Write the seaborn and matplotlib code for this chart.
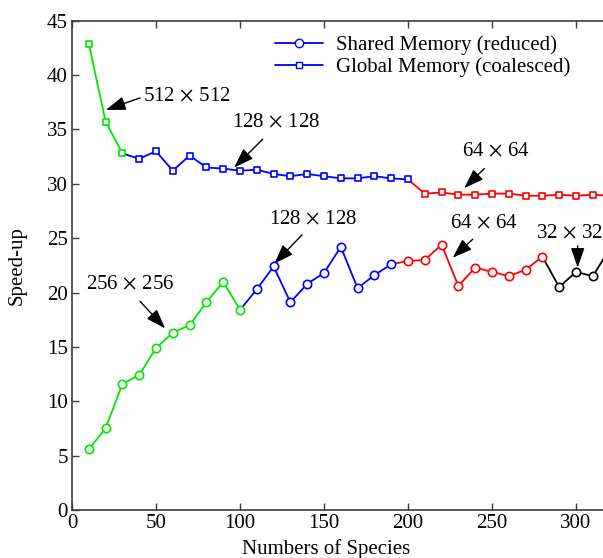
import matplotlib
matplotlib.use("Agg")
import matplotlib.pyplot as plt
from matplotlib.lines import Line2D
import numpy as np
import pandas as pd
import seaborn as sns

# Number of species on the x axis
species = [10, 20, 30, 40, 50, 60, 70, 80, 90, 100,
           110, 120, 130, 140, 150, 160, 170, 180, 190, 200,
           210, 220, 230, 240, 250, 260, 270, 280, 290, 300,
           310, 320]

# Speed-up of the shared-memory (reduced) kernel
shared_speedup = [5.6, 7.5, 11.6, 12.4, 14.9, 16.3, 17.0, 19.1, 21.0, 18.4,
                  20.3, 22.4, 19.1, 20.8, 21.8, 24.2, 20.4, 21.6, 22.6, 22.9,
                  23.0, 24.4, 20.6, 22.3, 21.9, 21.5, 22.1, 23.3, 20.5, 21.9,
                  21.5, 24.0]

# Speed-up of the global-memory (coalesced) kernel
global_speedup = [42.9, 35.7, 32.8, 32.3, 33.0, 31.2, 32.6, 31.5, 31.4, 31.2,
                  31.3, 30.9, 30.7, 30.9, 30.7, 30.5, 30.5, 30.7, 30.5, 30.4,
                  29.1, 29.2, 29.0, 29.0, 29.1, 29.1, 28.9, 28.9, 29.0, 28.9,
                  29.0, 28.9]

# Grid sizes used over each range of species, and the colour for each range
shared_segments = [(0, 10, "#00e600"), (10, 19, "#0000ff"),
                   (19, 28, "#ff0000"), (28, 32, "black")]
global_segments = [(0, 3, "#00e600"), (3, 20, "#0000ff"), (20, 32, "#ff0000")]

legend_labels = ["Shared Memory (reduced)", "Global Memory (coalesced)"]

sns.set_theme(style="ticks")
plt.rcParams["font.family"] = ["Liberation Serif", "DejaVu Serif"]
plt.rcParams["mathtext.fontset"] = "stix"
plt.rcParams["text.color"] = "black"
plt.rcParams["axes.labelcolor"] = "black"

FS = 15
AX_COLOR = "#3c3c3c"

fig = plt.figure(figsize=(6.03, 5.58), dpi=100)
ax = fig.add_axes([72 / 603, 48 / 558, 588 / 603, 489.3 / 558])


def draw_series(yvals, segments, marker, msize):
    df = pd.DataFrame({"species": species, "speedup": yvals})
    # connecting lines: each range starts from the last point of the previous one
    for start, stop, color in segments:
        lo = max(start - 1, 0)
        part = df.iloc[lo:stop]
        sns.lineplot(data=part, x="species", y="speedup", color=color,
                     linewidth=1.3, ax=ax, sort=False, zorder=2)
    # open markers on top
    for start, stop, color in segments:
        part = df.iloc[start:stop]
        sns.scatterplot(data=part, x="species", y="speedup", marker=marker,
                        s=msize ** 2, facecolor="white", edgecolor=color,
                        linewidth=1.2, ax=ax, zorder=3)


draw_series(shared_speedup, shared_segments, "o", 6.0)
draw_series(global_speedup, global_segments, "s", 5.0)

ax.set_xlim(0, 350)
ax.set_ylim(0, 45)
ax.set_xticks(np.arange(0, 301, 50))
ax.set_yticks(np.arange(0, 46, 5))
ax.tick_params(direction="in", length=5, width=1, colors=AX_COLOR,
               labelcolor="black", labelsize=FS, top=True, right=True, pad=3)
for side in ["left", "bottom", "top", "right"]:
    ax.spines[side].set_visible(True)
    ax.spines[side].set_color(AX_COLOR)
    ax.spines[side].set_linewidth(1.2)

ax.set_xlabel("Numbers of Species", fontsize=FS)
ax.set_ylabel("Speed-up", fontsize=FS)
ax.xaxis.set_label_coords(151 / 350, -0.06)
ax.yaxis.set_label_coords(-0.077, 0.5)

arrow = dict(arrowstyle="-|>,head_length=0.8,head_width=0.28", color="black",
             lw=1.0, shrinkA=0, shrinkB=0, mutation_scale=15)
annotations = [
    (r"512$\,\times\,$512", (20.2, 36.8), (42.0, 37.95), "left"),
    (r"128$\,\times\,$128", (96.6, 31.5), (121.4, 35.6), "center"),
    (r"64$\,\times\,$64", (233.5, 29.6), (252.4, 32.9), "center"),
    (r"256$\,\times\,$256", (55.4, 16.7), (34.6, 20.7), "center"),
    (r"128$\,\times\,$128", (120.4, 22.65), (143.3, 26.7), "center"),
    (r"64$\,\times\,$64", (226.6, 23.2), (244.9, 26.3), "center"),
    (r"32$\,\times\,$32", (301.0, 22.3), (296.4, 25.4), "center"),
]
tails = [(40.5, 37.9), (113.5, 34.1), (245.4, 31.4), (40.5, 19.2),
         (136.9, 25.3), (238.5, 24.9), (301.0, 24.3)]
for (label, head, txt, ha), tail in zip(annotations, tails):
    ax.annotate("", xy=head, xytext=tail, arrowprops=arrow, zorder=4)
    ax.text(txt[0], txt[1], label, fontsize=FS, ha=ha, va="center", zorder=4)

handles = [
    Line2D([], [], color="#0000ff", lw=1.3, marker="o", markersize=6,
           markerfacecolor="white", markeredgecolor="#0000ff"),
    Line2D([], [], color="#0000ff", lw=1.3, marker="s", markersize=5,
           markerfacecolor="white", markeredgecolor="#0000ff"),
]
fig.legend(handles, legend_labels, loc="upper left",
           bbox_to_anchor=(265 / 603, 1 - 25 / 558), frameon=False,
           fontsize=FS, handlelength=2.3, handletextpad=0.6,
           borderpad=0, labelspacing=0.1)

fig.savefig("out.png", dpi=100)
